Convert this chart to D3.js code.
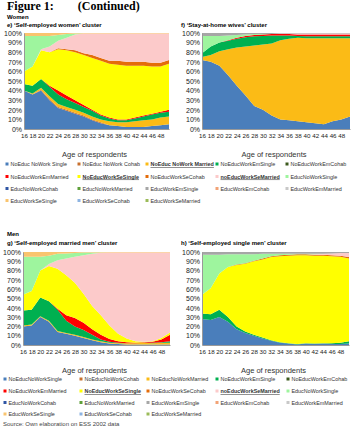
<!DOCTYPE html>
<html>
<head>
<meta charset="utf-8">
<script src="https://cdn.jsdelivr.net/npm/d3@7"></script>
<style>
  body { margin: 0; background: #fff; }
  text { font-family: "Liberation Sans", Arial, sans-serif; }
</style>
</head>
<body>
<script>
// - Stacked area charts: cluster shares by age -

// Data

const ages = [16, 18, 20, 22, 24, 26, 28, 30, 32, 34, 36, 38, 40, 42, 44, 46, 48, 50];
const xTicks = [16, 18, 20, 22, 24, 26, 28, 30, 32, 34, 36, 38, 40, 42, 44, 46, 48];
const yTicks = [0, 10, 20, 30, 40, 50, 60, 70, 80, 90, 100];

const seriesKeys = ["NWSingle", "NWCohab", "NWMarried", "EmSingle", "EmCohab", "EmMarried",
                    "SeSingle", "SeCohab", "SeMarried", "EdNWSingle", "EdNWCohab", "EdNWMarried",
                    "EdEmSingle", "EdEmCohab", "EdEmMarried", "EdSeSingle", "EdSeCohab", "EdSeMarried"];

const womenNames = ["NoEduc NoWork Single", "NoEduc NoWork Cohab", "NoEduc NoWork Married", "NoEducWorkEmSingle", "NoEducWorkEmCohab",
                    "NoEducWorkEmMarried", "NoEducWorkSeSingle", "NoEducWorkSeCohab", "noEducWorkSeMarried", "EducNoWorkSingle",
                    "EducNoWorkCohab", "EducNoWorkMarried", "EducWorkEmSingle", "EducWorkEmCohab", "EducWorkEmMarried",
                    "EducWorkSeSingle", "EducWorkSeCohab", "EducWorkSeMarried"];
const menNames = ["NoEducNoWorkSingle", "NoEducNoWorkCohab", "NoEducNoWorkMarried", "NoEducWorkEmSingle", "NoEducWorkEmCohab",
                  "NoEducWorkEmMarried", "NoEducWorkSeSingle", "NoEducWorkSeCohab", "noEducWorkSeMarried", "EducNoWorkSingle",
                  "EducNoWorkCohab", "EducNoWorkMarried", "EducWorkEmSingle", "EducWorkEmCohab", "EducWorkEmMarried",
                  "EducWorkSeSingle", "EducWorkSeCohab", "EducWorkSeMarried"];
const womenBold = ["NWMarried", "SeSingle", "SeMarried"];
const menBold = ["SeSingle", "SeMarried"];

// e) self-employed women
const eNWSingle  = [40, 36, 40, 30, 22, 19, 16, 13, 9, 6, 4, 3, 2, 2, 2, 3, 4, 5];
const eNWCohab   = [0, 0, 1, 1, 1, 1, 1, 1, 1, 1, 0, 0, 0, 0, 0, 0, 0, 0];
const eNWMarried = [0, 1, 2, 3, 3, 3, 3, 3, 3, 3, 4, 4, 5, 6, 7, 7, 8, 8];
const eEmSingle  = [7, 8, 9, 10, 10, 8, 7, 6, 6, 4, 3, 2, 2, 3, 4, 5, 5, 5];
const eEmMarried = [0, 0, 0, 1, 4, 4, 3, 2, 1, 1, 1, 1, 1, 1, 1, 1, 1, 2];
const eSeSingle  = [13, 20, 30, 35, 43, 47, 50, 52, 54, 56, 56, 57, 56, 54, 52, 49, 47, 48];
const eSeCohab   = [0, 0, 0, 0, 1, 1, 2, 2, 3, 3, 3, 4, 4, 4, 4, 4, 4, 4];
const eSeMarried = [0, 0, 1, 6, 8, 12, 16.5, 20.5, 22.5, 25.5, 28.5, 28.5, 29.5, 29.5, 29.5, 30.5, 30.5, 27.5];
const eEdNWSingle = [37, 32, 14, 11, 6, 4, 1, 0, 0, 0, 0, 0, 0, 0, 0, 0, 0, 0];
const eEdSeSingle = [3, 3, 3, 3, 2, 1, 0.5, 0.5, 0.5, 0.5, 0.5, 0.5, 0.5, 0.5, 0.5, 0.5, 0.5, 0.5];

// f) stay-at-home wives
const fNWSingle  = [72, 70, 66, 56, 45, 35, 24, 20, 14, 10, 9, 8, 7, 6, 5, 8, 10, 13];
const fNWMarried = [3, 7, 15, 27, 40, 51, 63, 68, 75, 82.5, 85, 87, 87.5, 88.5, 89.5, 86.5, 84.5, 81.5];
const fEmSingle  = [4, 9, 9, 9, 9, 9.5, 9.5, 9, 8.5, 5, 3.5, 2, 2, 2, 2, 2, 2, 2];
const fEmMarried = [0, 0, 0, 0.5, 1, 1.5, 1.5, 1.5, 1.5, 1.5, 1.5, 1.5, 2, 2, 2, 2, 2, 2];
const fSeMarried = [0, 0, 0, 0, 0, 0, 0, 0, 0, 0.5, 0.5, 1, 1, 1, 1, 1, 1, 1];
const fEdNWSingle = [18, 11, 7, 5, 3, 1.5, 1, 0.5, 0, 0, 0, 0, 0, 0, 0, 0, 0, 0];
const fEdEmSingle = [3, 3, 3, 2.5, 2, 1.5, 1, 1, 1, 0.5, 0.5, 0.5, 0.5, 0.5, 0.5, 0.5, 0.5, 0.5];

// g) self-employed married men
const gNWSingle  = [20, 21, 30, 25, 14, 12, 10, 7.5, 5, 3, 1.5, 1, 0.5, 0.5, 0.5, 0.5, 0.5, 0.5];
const gNWMarried = [1, 1, 1, 1, 1, 1, 1, 1, 1, 1, 1, 1, 1.5, 1.5, 2, 1.5, 2, 2];
const gEmSingle  = [16, 16, 20, 21, 23, 13, 9, 7.5, 5, 2, 1, 0.5, 0, 0, 0, 0.5, 0.5, 1.5];
const gEmMarried = [0, 0, 0, 0, 1, 6, 9, 8, 6, 5, 3, 1.5, 1, 0.5, 0.5, 1, 3, 7];
const gSeSingle  = [17, 20, 29, 38, 43, 43, 38, 31, 25, 21, 14.5, 8, 4, 1.5, 0.5, 0.5, 1.5, 2.5];
const gSeMarried = [0, 0, 0, 2, 9, 18, 28, 41.5, 56, 67, 78.5, 87.5, 92.5, 95.5, 96.5, 96, 92, 86];
const gEdNWSingle = [41, 37, 15, 9, 7, 5.5, 4, 3, 1.5, 0.3, 0, 0, 0, 0, 0, 0, 0, 0];
const gEdSeSingle = [5, 5, 5, 4, 2, 1.5, 1, 0.5, 0.5, 0.5, 0.5, 0.5, 0.5, 0.5, 0.5, 0.5, 0.5, 0.5];

// h) self-employed single men
const hNWSingle  = [28, 27, 30, 25, 17, 13, 10, 7, 4.5, 2.5, 1.5, 0.5, 1.5, 1, 1.5, 1, 1, 1.5];
const hEmSingle  = [6, 6, 8, 5, 3, 1.5, 1, 1, 0.5, 0.5, 0.5, 0.5, 0.5, 0.5, 0.5, 1, 1.5, 2.5];
const hSeSingle  = [20, 28, 39, 54, 66, 73, 79, 84, 89.5, 92.5, 94, 95.5, 94.5, 94.5, 94, 93.5, 92.5, 89];
const hSeCohab   = [0, 0, 0, 0, 0.5, 0.5, 0.5, 1, 1, 1, 1, 1, 1, 1, 1, 1, 1, 1.5];
const hSeMarried = [0, 0, 0, 0, 0, 0, 0, 0, 0, 0, 0, 0, 0, 0.5, 1, 2, 3, 4.5];
const hEdNWSingle = [43, 36, 20, 13.5, 11, 9.5, 7, 5, 2.5, 1.5, 1, 0.5, 0.5, 0.5, 0, 0, 0, 0];
const hEdEmSingle = [3, 3, 3, 2.5, 2.5, 2.5, 2.5, 2, 2, 2, 2, 2, 2, 2, 2, 1.5, 1, 1];

// Colors

const colors = ["#4a7ebb", "#c8702e", "#fbbb16", "#00b050", "#3c5a1e", "#ff0000",
                "#ffff00", "#e46c0a", "#fccaca", "#9ef59e", "#2f55a4", "#5fa03a",
                "#a6a6a6", "#f2a377", "#c8c8c8", "#f9c46e", "#8db4e2", "#9bbb59"];

// Layout

const w = 352, h = 428;

const panels = [
  { x0: 24, x1: 169, y0: 33, y1: 129, tx: 7, ty: 27, title: "e) \u2018Self-employed women\u2019 cluster",
    values: { NWSingle: eNWSingle, NWCohab: eNWCohab, NWMarried: eNWMarried, EmSingle: eEmSingle, EmMarried: eEmMarried,
              SeSingle: eSeSingle, SeCohab: eSeCohab, SeMarried: eSeMarried, EdNWSingle: eEdNWSingle, EdSeSingle: eEdSeSingle } },
  { x0: 202, x1: 350, y0: 33, y1: 129, tx: 181, ty: 27, title: "f) \u2018Stay-at-home wives\u2019 cluster",
    values: { NWSingle: fNWSingle, NWMarried: fNWMarried, EmSingle: fEmSingle, EmMarried: fEmMarried,
              SeMarried: fSeMarried, EdNWSingle: fEdNWSingle, EdEmSingle: fEdEmSingle } },
  { x0: 23, x1: 170, y0: 252, y1: 345, tx: 7, ty: 244.5, title: "g) \u2018Self-employed married men\u2019 cluster",
    values: { NWSingle: gNWSingle, NWMarried: gNWMarried, EmSingle: gEmSingle, EmMarried: gEmMarried,
              SeSingle: gSeSingle, SeMarried: gSeMarried, EdNWSingle: gEdNWSingle, EdSeSingle: gEdSeSingle } },
  { x0: 202, x1: 349, y0: 252, y1: 345, tx: 181, ty: 244.5, title: "h) \u2018Self-employed single men\u2019 cluster",
    values: { NWSingle: hNWSingle, EmSingle: hEmSingle, SeSingle: hSeSingle, SeCohab: hSeCohab, SeMarried: hSeMarried,
              EdNWSingle: hEdNWSingle, EdEmSingle: hEdEmSingle } }
];

// SVG

const svg = d3.select("body")
              .append("svg")
              .attr("width", w)
              .attr("height", h);

svg.append("text")
   .attr("x", 7).attr("y", 10)
   .style("font-family", "'Liberation Serif', 'Times New Roman', serif")
   .style("font-weight", "bold")
   .style("font-size", "12px")
   .attr("xml:space", "preserve")
   .text("Figure 1:        (Continued)");

svg.append("text").attr("x", 7).attr("y", 18.5)
   .style("font-weight", "bold").style("font-size", "6px").text("Women");
svg.append("text").attr("x", 7).attr("y", 235.5)
   .style("font-weight", "bold").style("font-size", "6px").text("Men");

// Panels

panels.forEach(p => {
  const x = d3.scaleLinear().domain([16, 50]).range([p.x0, p.x1]);
  const y = d3.scaleLinear().domain([0, 1]).range([p.y1, p.y0]);

  const rows = ages.map((a, i) => {
    const r = { age: a };
    seriesKeys.forEach(k => { r[k] = p.values[k] ? p.values[k][i] : 0; });
    return r;
  });

  const stacked = d3.stack()
                    .keys(seriesKeys)
                    .offset(d3.stackOffsetExpand)(rows);

  const area = d3.area()
                 .x(d => x(d.data.age))
                 .y0(d => y(d[0]))
                 .y1(d => y(d[1]));

  const g = svg.append("g");

  g.selectAll("path")
   .data(stacked)
   .enter()
   .append("path")
   .attr("fill", (d, i) => colors[i])
   .attr("d", area);

  const yAxis = g.append("g")
                 .attr("transform", "translate(" + p.x0 + ",0)")
                 .call(d3.axisLeft(y).tickValues(yTicks.map(v => v / 100))
                                     .tickFormat(d3.format(".0%"))
                                     .tickSize(0).tickPadding(2));
  yAxis.select(".domain").attr("stroke", "#999");
  yAxis.selectAll("text").style("font-size", "7px").attr("fill", "#222");

  const xAxis = g.append("g")
                 .attr("transform", "translate(0," + p.y1 + ")")
                 .call(d3.axisBottom(x).tickValues(xTicks).tickSize(0).tickPadding(5));
  xAxis.select(".domain").attr("stroke", "#999");
  xAxis.selectAll("text").style("font-size", "6.2px").attr("fill", "#222");

  g.append("text")
   .attr("x", (p.x0 + p.x1) / 2 - 2)
   .attr("y", p.y1 + 28)
   .attr("text-anchor", "middle")
   .style("font-size", "7.5px")
   .attr("fill", "#333")
   .text("Age of respondents");

  svg.append("text")
     .attr("x", p.tx).attr("y", p.ty)
     .style("font-weight", "bold").style("font-size", "6px")
     .text(p.title);
});

// Legends

function legend(names, bold, cols, rowsY) {
  const lg = svg.append("g");
  const items = lg.selectAll("g")
                  .data(names)
                  .enter()
                  .append("g")
                  .attr("transform", (d, i) => "translate(" + cols[i % 5] + "," + rowsY[Math.floor(i / 5)] + ")");
  items.append("rect")
       .attr("x", -1.5).attr("y", -1.5)
       .attr("width", 3).attr("height", 3)
       .attr("fill", (d, i) => colors[i]);
  items.append("text")
       .attr("x", 3.5).attr("y", 2)
       .style("font-size", "5.4px")
       .style("font-weight", (d, i) => bold.includes(seriesKeys[i]) ? "bold" : "normal")
       .style("text-decoration", (d, i) => bold.includes(seriesKeys[i]) ? "underline" : "none")
       .attr("fill", "#333")
       .text(d => d);
}

legend(womenNames, womenBold, [7, 79, 147, 217, 287], [164, 176.5, 188.5, 200.5]);
legend(menNames, menBold, [5, 81, 148, 217, 288], [379, 391, 402.5, 414]);

svg.append("text")
   .attr("x", 3).attr("y", 426)
   .style("font-size", "6px")
   .attr("fill", "#444")
   .text("Source: Own elaboration on ESS 2002 data");
</script>
</body>
</html>
